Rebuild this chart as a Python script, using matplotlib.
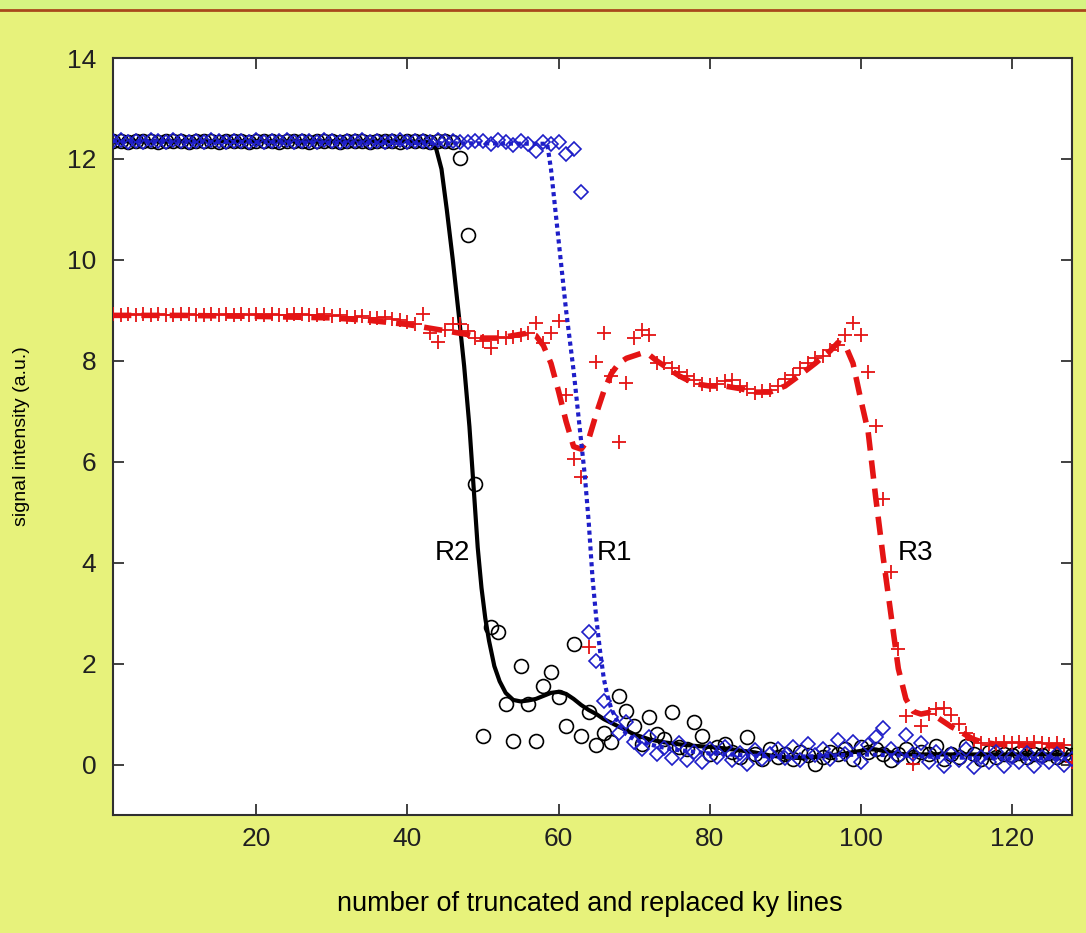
import numpy as np
import matplotlib
matplotlib.use("Agg")
import matplotlib.pyplot as plt
from matplotlib.patches import Rectangle
from matplotlib.lines import Line2D

plt.rcParams['font.family'] = ['Liberation Sans', 'DejaVu Sans']

# ky line index for the measured points
lines = np.arange(1, 129)

# R1 measured signal (blue diamonds)
r1_data = [
    12.35, 12.38, 12.33, 12.36, 12.34, 12.37, 12.35, 12.33, 12.38, 12.35, 12.34, 12.36, 12.33, 12.37, 12.35, 12.34,
    12.36, 12.35, 12.33, 12.38, 12.34, 12.36, 12.35, 12.37, 12.33, 12.35, 12.36, 12.34, 12.38, 12.35, 12.33, 12.36,
    12.35, 12.37, 12.34, 12.36, 12.33, 12.35, 12.38, 12.34, 12.36, 12.35, 12.33, 12.37, 12.35, 12.36, 12.34, 12.33,
    12.36, 12.35, 12.30, 12.37, 12.33, 12.28, 12.36, 12.30, 12.15, 12.33, 12.30, 12.33, 12.10, 12.20, 11.35, 2.62,
    2.06, 1.25, 0.95, 0.62, 0.85, 0.45, 0.30, 0.55, 0.20, 0.32, 0.12, 0.42, 0.08, 0.25, 0.05, 0.30,
    0.15, 0.35, 0.08, 0.22, 0.02, 0.28, 0.10, 0.20, 0.30, 0.12, 0.35, 0.08, 0.40, 0.18, 0.30, 0.10,
    0.48, 0.20, 0.45, 0.05, 0.38, 0.55, 0.72, 0.30, 0.15, 0.58, 0.20, 0.42, 0.05, 0.25, -0.02, 0.20,
    0.08, 0.30, -0.04, 0.15, 0.05, 0.25, -0.02, 0.15, 0.05, 0.22, -0.03, 0.15, 0.05, 0.20, 0.00, 0.10,
]

# R2 measured signal (black circles)
r2_data = [
    12.35, 12.36, 12.34, 12.35, 12.36, 12.35, 12.34, 12.35, 12.36, 12.35, 12.34, 12.35, 12.36, 12.35, 12.34, 12.35,
    12.36, 12.35, 12.34, 12.35, 12.36, 12.35, 12.34, 12.35, 12.36, 12.35, 12.34, 12.35, 12.36, 12.35, 12.34, 12.35,
    12.36, 12.35, 12.34, 12.35, 12.36, 12.35, 12.34, 12.35, 12.36, 12.35, 12.34, 12.35, 12.35, 12.33, 12.02, 10.50,
    5.55, 0.57, 2.73, 2.63, 1.20, 0.47, 1.96, 1.20, 0.47, 1.56, 1.84, 1.34, 0.77, 2.39, 0.57, 1.05,
    0.38, 0.62, 0.45, 1.36, 1.07, 0.77, 0.41, 0.95, 0.60, 0.50, 1.05, 0.35, 0.30, 0.85, 0.57, 0.20,
    0.35, 0.41, 0.25, 0.15, 0.55, 0.20, 0.10, 0.30, 0.15, 0.20, 0.10, 0.25, 0.18, 0.02, 0.15, 0.25,
    0.20, 0.30, 0.10, 0.35, 0.25, 0.30, 0.20, 0.08, 0.20, 0.30, 0.15, 0.25, 0.20, 0.36, 0.10, 0.20,
    0.15, 0.36, 0.20, 0.10, 0.25, 0.15, 0.20, 0.18, 0.22, 0.15, 0.20, 0.18, 0.22, 0.15, 0.20, 0.18,
]

# R3 measured signal (red plus)
r3_data = [
    8.92, 8.90, 8.93, 8.91, 8.92, 8.90, 8.93, 8.91, 8.90, 8.92, 8.93, 8.91, 8.90, 8.92, 8.91, 8.93,
    8.90, 8.92, 8.91, 8.93, 8.90, 8.92, 8.91, 8.90, 8.92, 8.93, 8.90, 8.91, 8.92, 8.88, 8.90, 8.87,
    8.86, 8.88, 8.85, 8.84, 8.86, 8.82, 8.80, 8.76, 8.72, 8.92, 8.55, 8.38, 8.62, 8.72, 8.72, 8.60,
    8.46, 8.40, 8.26, 8.48, 8.45, 8.48, 8.52, 8.56, 8.75, 8.36, 8.56, 8.78, 7.33, 6.05, 5.69, 2.33,
    7.98, 8.56, 7.69, 6.40, 7.57, 8.46, 8.62, 8.52, 7.96, 7.96, 7.85, 7.78, 7.70, 7.62, 7.55, 7.52,
    7.55, 7.60, 7.62, 7.50, 7.45, 7.37, 7.40, 7.43, 7.50, 7.63, 7.72, 7.86, 7.95, 8.05, 8.10, 8.22,
    8.32, 8.52, 8.75, 8.52, 7.77, 6.70, 5.26, 3.81, 2.29, 0.97, 0.02, 0.77, 1.00, 1.10, 1.12, 0.98,
    0.80, 0.62, 0.48, 0.42, 0.38, 0.40, 0.45, 0.42, 0.44, 0.40, 0.45, 0.42, 0.40, 0.42, 0.38, 0.05,
]

# fitted curves
r1_fit_x = [1, 58.5, 59, 59.5, 60, 60.5, 61, 61.5, 62, 62.5, 63, 63.5, 64, 64.5, 65, 65.5, 66, 66.5, 67,
            68, 69, 70, 72, 75, 80, 85, 90, 95, 100, 105, 110, 115, 120, 128]
r1_fit_y = [12.35, 12.3, 11.8, 11.1, 10.4, 9.7, 9.0, 8.4, 7.8, 7.1, 6.4, 5.7, 4.8, 3.7, 2.9, 2.25, 1.7, 1.35, 1.1,
            0.8, 0.6, 0.5, 0.4, 0.3, 0.22, 0.18, 0.15, 0.17, 0.2, 0.18, 0.15, 0.13, 0.12, 0.12]

r2_fit_x = [1, 40, 43, 43.8, 44.5, 45.2, 46, 46.8, 47.5, 48.2, 48.8, 49.3, 49.8, 50.3, 50.8, 51.5, 52.2, 53,
            54, 55, 56, 57, 58, 59, 60, 61, 62, 63, 64, 65, 66, 68, 70, 72, 74, 76, 78, 80, 82, 84, 86, 88,
            90, 92, 94, 96, 98, 100, 101, 102, 103, 104, 106, 108, 110, 115, 120, 128]
r2_fit_y = [12.35, 12.35, 12.33, 12.2, 11.8, 11.0, 10.0, 8.9, 7.9, 6.7, 5.4, 4.3, 3.5, 2.9, 2.45, 1.95, 1.65, 1.42,
            1.28, 1.25, 1.27, 1.3, 1.36, 1.42, 1.44, 1.4, 1.3, 1.18, 1.08, 1.0, 0.9, 0.75, 0.6, 0.5, 0.44, 0.4,
            0.37, 0.35, 0.32, 0.28, 0.24, 0.18, 0.14, 0.13, 0.15, 0.18, 0.22, 0.27, 0.3, 0.3, 0.27, 0.24, 0.2,
            0.2, 0.2, 0.2, 0.2, 0.2]

r3_fit_x = [1, 10, 20, 30, 35, 40, 44, 48, 50, 52, 54, 56, 57, 58, 59, 60, 61, 62, 63, 64, 65, 66, 67, 68,
            69, 70, 71, 72, 73, 74, 76, 78, 80, 82, 84, 86, 88, 90, 92, 94, 96, 97, 98, 99, 100, 101, 102,
            103, 104, 105, 106, 107, 108, 109, 110, 111, 112, 113, 114, 115, 116, 118, 122, 128]
r3_fit_y = [8.9, 8.9, 8.88, 8.85, 8.8, 8.72, 8.62, 8.52, 8.45, 8.45, 8.5, 8.55, 8.5, 8.3, 7.95, 7.4, 6.8, 6.3,
            6.25, 6.45, 6.95, 7.4, 7.75, 7.95, 8.05, 8.1, 8.15, 8.12, 8.0, 7.9, 7.7, 7.55, 7.5, 7.5, 7.45, 7.38,
            7.38, 7.5, 7.72, 7.95, 8.2, 8.36, 8.3, 7.95, 7.25, 6.6, 5.3, 4.1, 3.0, 1.9, 1.3, 1.05, 1.0, 1.03,
            0.95, 0.85, 0.75, 0.67, 0.58, 0.5, 0.45, 0.4, 0.38, 0.36]

labels = ["R2", "R1", "R3"]
label_x = [46, 67.4, 107.3]
label_y = [4.2, 4.2, 4.2]

bg = '#e7f27b'
blue = '#1e1ec8'
red = '#e41414'

fig = plt.figure(figsize=(10.86, 9.33), dpi=100, facecolor=bg)
# top strip of the slide
fig.patches.append(Rectangle((0, 1 - 9 / 933), 1, 9 / 933, transform=fig.transFigure,
                             facecolor='#d6f482', edgecolor='none'))
fig.lines.append(Line2D([0, 1], [1 - 10 / 933, 1 - 10 / 933], transform=fig.transFigure,
                        color='#a8481c', lw=2))

ax = fig.add_axes([113 / 1086, 1 - 815 / 933, 959 / 1086, 757 / 933])
ax.set_facecolor('white')

ax.plot(r2_fit_x, r2_fit_y, color='black', lw=3, zorder=2)
ax.plot(lines, r2_data, ls='none', marker='o', ms=10, mfc='none', mec='black', mew=1.2, zorder=3)
ax.plot(lines, r3_data, ls='none', marker='+', ms=10.5, color=red, mew=1.3, zorder=4)
ax.plot(r3_fit_x, r3_fit_y, color=red, lw=4, dashes=(3.3, 1.8), dash_capstyle='butt', zorder=5)
ax.plot(lines, r1_data, ls='none', marker='D', ms=7, mfc='none', mec=blue, mew=1.2, zorder=6)
ax.plot(r1_fit_x, r1_fit_y, color=blue, lw=3, dashes=(1, 0.9), dash_capstyle='butt', zorder=7)

for t, x, y in zip(labels, label_x, label_y):
    ax.text(x, y, t, fontsize=20, ha='center', va='center', zorder=8)

ax.set_xlim(1, 128)
ax.set_ylim(-1, 14)
ax.set_xticks([20, 40, 60, 80, 100, 120])
ax.set_yticks([0, 2, 4, 6, 8, 10, 12, 14])
ax.tick_params(direction='in', length=8, width=1.2, top=True, right=True,
               labelsize=19, colors='#202020')
ax.tick_params(axis='y', pad=12)
ax.tick_params(axis='x', pad=9)
for s in ax.spines.values():
    s.set_color('#303030')
    s.set_linewidth(1.5)

ax.set_xlabel("number of truncated and replaced ky lines", fontsize=19.5)
ax.set_ylabel("signal intensity (a.u.)", fontsize=14)
ax.xaxis.set_label_coords(0.497, -0.10)
ax.yaxis.set_label_coords(-0.087, 0.5)

fig.savefig("out.png", dpi=100, facecolor=bg)
